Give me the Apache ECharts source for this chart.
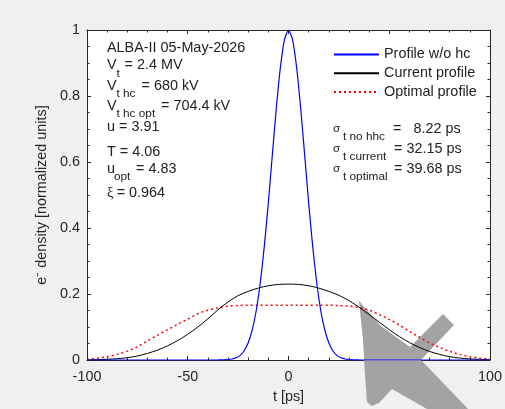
<!DOCTYPE html>
<html>
<head>
<meta charset="utf-8">
<script src="https://cdn.jsdelivr.net/npm/echarts@6/dist/echarts.min.js"></script>
<style>
html,body{margin:0;padding:0;background:#f0f0f0;}
#c{width:505px;height:409px;}
</style>
</head>
<body>
<div id="c"></div>
<script>
// ---- data ----
var blueT = [-100,-40,-35,-30,-28,-26,-24,-22,-20,-18,-16,-14,-12,-10,-8,-6,-4,-2,0,2,4,6,8,10,12,14,16,18,20,22,24,26,28,30,35,40,100];
var blueV = [0,0,0.0001,0.0013,0.003,0.0067,0.014,0.028,0.052,0.091,0.150,0.234,0.345,0.477,0.623,0.766,0.888,0.971,1,0.971,0.888,0.766,0.623,0.477,0.345,0.234,0.150,0.091,0.052,0.028,0.014,0.0067,0.003,0.0013,0.0001,0,0];

var curT = [-100,-95,-90,-85,-80,-75,-70,-65,-60,-55,-50,-45,-40,-35,-30,-25,-20,-15,-10,-5,0,5,10,15,20,25,30,35,40,45,50,55,60,65,70,75,80,85,90,95,100];
var curV = [0.000,0.001,0.002,0.004,0.007,0.012,0.020,0.030,0.043,0.059,0.078,0.100,0.125,0.152,0.176,0.195,0.208,0.218,0.225,0.229,0.230,0.229,0.225,0.218,0.208,0.196,0.180,0.160,0.138,0.115,0.092,0.071,0.053,0.038,0.026,0.017,0.010,0.006,0.003,0.002,0.001];

var optT = curT;
var optV = [0.002,0.005,0.010,0.017,0.027,0.040,0.058,0.075,0.092,0.108,0.124,0.140,0.151,0.158,0.163,0.165,0.166,0.166,0.166,0.166,0.166,0.166,0.166,0.166,0.166,0.165,0.163,0.159,0.151,0.138,0.123,0.106,0.087,0.069,0.052,0.038,0.026,0.017,0.010,0.006,0.003];

var seriesNames = ['Profile w/o hc','Current profile','Optimal profile'];
var xTicks = {min:-100, max:100, step:50};
var yTicks = {min:0, max:1, step:0.2};

function pairs(t, v){ return t.map(function(x,i){ return [x, v[i]]; }); }

var FONT = '"Liberation Sans", Arial, Helvetica, sans-serif';
var TXT = '#222';
var AX = '#262626';

function txt(x, y, s, size, opts){
  opts = opts || {};
  return {
    type:'text', x:x, y:y, z:100,
    style:{
      text:s, fill: opts.fill || TXT,
      font: (opts.font || (size + 'px ' + FONT)),
      align: opts.align || 'left', textAlign: opts.align || 'left',
      verticalAlign:'middle', textVerticalAlign:'middle'
    }
  };
}

var MS = 14.4, SS = 11.8;
var graphics = [
  // gray overlay shape
  {type:'polygon', z:1, silent:true,
   shape:{points:[[359,301],[381,326],[410,347],[443,314],[454,325],[421,360],[472,413],[434,413],[392,389],[379,403],[372,406],[367,402],[365,375],[363,340]]},
   style:{fill:'#a3a3a3'}},
  // left annotation
  txt(107, 47.8, 'ALBA-II 05-May-2026', MS),
  txt(107, 65.5, 'V', MS), txt(116.5, 73.5, 't', SS), txt(124.5, 65.5, '= 2.4 MV', MS),
  txt(107, 85.7, 'V', MS), txt(116.5, 93.5, 't hc', SS), txt(141.5, 85.7, '= 680 kV', MS),
  txt(107, 105.8, 'V', MS), txt(116.5, 113.5, 't hc opt', SS), txt(161, 105.8, '= 704.4 kV', MS),
  txt(107, 127.5, 'u = 3.91', MS),
  txt(107, 152, 'T = 4.06', MS),
  txt(107, 169.5, 'u', MS), txt(114, 176.5, 'opt', SS), txt(136, 169.5, '= 4.83', MS),
  txt(107, 193.3, '\u03be', MS, {font: MS + 'px "Liberation Serif", serif'}), txt(116.7, 193.3, '= 0.964', MS),
  // sigma annotation
  txt(333, 128.5, '\u03c3', 11.5), txt(343, 136.5, 't no hhc', SS), txt(393, 128.8, '=   8.22 ps', MS),
  txt(333, 148.5, '\u03c3', 11.5), txt(343, 157, 't current', SS), txt(394, 149.2, '= 32.15 ps', MS),
  txt(333, 168.5, '\u03c3', 11.5), txt(343, 177, 't optimal', SS), txt(394, 169.2, '= 39.68 ps', MS)
];

function axisCommon(){
  return {
    axisLine:{show:true, onZero:false, lineStyle:{color:AX, width:1}},
    axisTick:{show:true, inside:true, length:4, lineStyle:{color:AX, width:1}},
    minorTick:{show:true, length:2.5, lineStyle:{color:AX, width:1}},
    splitLine:{show:false},
    minorSplitLine:{show:false}
  };
}

var xMain = Object.assign(axisCommon(), {
  type:'value', position:'bottom', min:xTicks.min, max:xTicks.max, interval:xTicks.step,
  name:'t [ps]', nameLocation:'middle', nameGap:30,
  nameTextStyle:{fontFamily:FONT, fontSize:MS, color:AX},
  axisLabel:{show:true, margin:10, fontFamily:FONT, fontSize:MS, color:AX}
});
xMain.minorTick.splitNumber = 5;
var xTop = Object.assign(axisCommon(), {
  type:'value', position:'top', min:xTicks.min, max:xTicks.max, interval:xTicks.step,
  axisLabel:{show:false}
});
xTop.minorTick.splitNumber = 5;
var yMain = Object.assign(axisCommon(), {
  type:'value', position:'left', min:yTicks.min, max:yTicks.max, interval:yTicks.step,
  name:'e\u207b density [normalized units]', nameLocation:'middle', nameGap:33, nameRotate:90,
  nameTextStyle:{fontFamily:FONT, fontSize:MS, color:AX},
  axisLabel:{show:true, margin:7, fontFamily:FONT, fontSize:MS, color:AX}
});
yMain.minorTick.splitNumber = 4;
var yRight = Object.assign(axisCommon(), {
  type:'value', position:'right', min:yTicks.min, max:yTicks.max, interval:yTicks.step,
  axisLabel:{show:false}
});
yRight.minorTick.splitNumber = 4;

var chart = echarts.init(document.getElementById('c'), null, {renderer:'canvas'});
chart.setOption({
  backgroundColor:'#f0f0f0',
  animation:false,
  grid:{left:87, right:14, top:30, bottom:47, show:true, backgroundColor:'#ffffff', borderWidth:0},
  xAxis:[xMain, xTop],
  yAxis:[yMain, yRight],
  legend:{
    orient:'vertical', left:333, top:47.5, padding:0,
    itemWidth:45, itemHeight:14, itemGap:4.8,
    itemStyle:{opacity:0},
    textStyle:{fontFamily:FONT, fontSize:MS, color:TXT},
    data:seriesNames
  },
  graphic:graphics,
  series:[
    {name:seriesNames[0], type:'line', data:pairs(blueT, blueV), symbol:'none', smooth:0.2, z:5,
     lineStyle:{color:'#0000ff', width:1.2}, itemStyle:{color:'#0000ff'}},
    {name:seriesNames[1], type:'line', data:pairs(curT, curV), symbol:'none', smooth:0.3, z:4,
     lineStyle:{color:'#000000', width:1}, itemStyle:{color:'#000000'}},
    {name:seriesNames[2], type:'line', data:pairs(optT, optV), symbol:'none', smooth:0.3, z:3,
     lineStyle:{color:'#ff0000', width:1.5, type:[2,3]}, itemStyle:{color:'#ff0000'}}
  ]
});
</script>
</body>
</html>
